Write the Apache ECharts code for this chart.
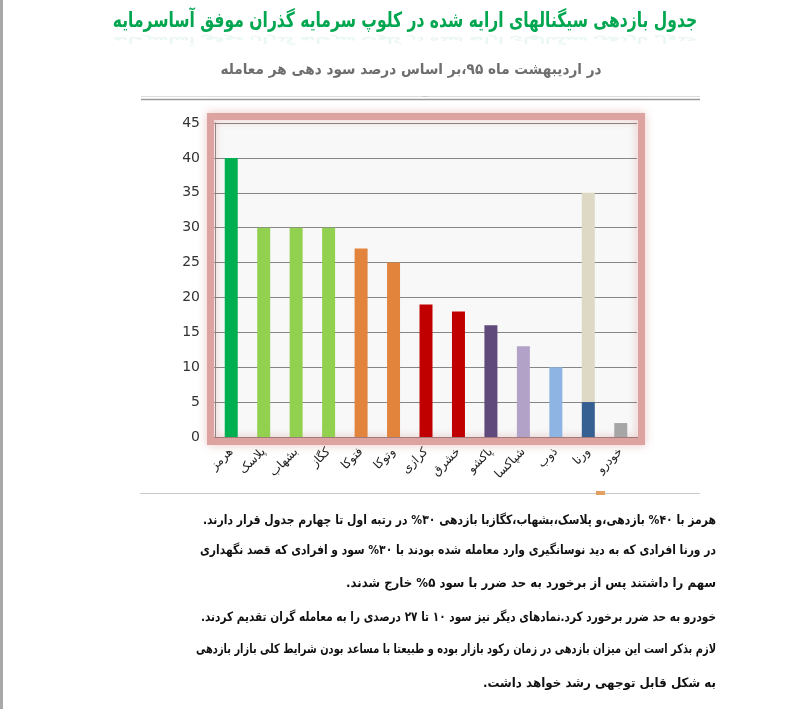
<!DOCTYPE html>
<html>
<head>
<meta charset="utf-8">
<script src="https://cdn.jsdelivr.net/npm/echarts@6/dist/echarts.min.js"></script>
<style>
html,body{margin:0;padding:0;background:#fff;}
#chart{width:797px;height:709px;}
</style>
</head>
<body>
<div id="chart" dir="rtl"></div>
<script>
const categories = ['هرمز','پلاسک','بشهاب','کگاز','فتوکا','وتوکا','کرازی','خشرق','پاکشو','شپاکسا','ذوب','ورنا','خودرو'];
const mainValues = [40, 30, 30, 30, 27, 25, 19, 18, 16, 13, 10, 5, 2];
const extraValues = ['-', '-', '-', '-', '-', '-', '-', '-', '-', '-', '-', 30, '-'];
const barColors = ['#00B050','#92D050','#92D050','#92D050','#E2843C','#E2843C','#C00000','#C00000','#604A7B','#B3A2C7','#8DB4E2','#376092','#A6A6A6'];
const extraColor = '#DDD9C4';
const yTicks = [0, 5, 10, 15, 20, 25, 30, 35, 40, 45];

const titleText = 'جدول بازدهی سیگنالهای ارایه شده در کلوپ سرمایه گذران موفق آساسرمایه';
const subtitleText = 'در اردیبهشت ماه ۹۵،بر اساس درصد سود دهی هر معامله';
const paragraphLines = [
  'هرمز با ۴۰% بازدهی،و پلاسک،بشهاب،کگازبا بازدهی ۳۰% در رتبه اول تا چهارم جدول قرار دارند.',
  'در ورنا افرادی که به دید نوسانگیری وارد معامله شده بودند با ۳۰% سود و افرادی که قصد نگهداری',
  'سهم را داشتند پس از برخورد به حد ضرر با سود ۵% خارج شدند.',
  'خودرو به حد ضرر برخورد کرد.نمادهای دیگر نیز سود ۱۰ تا ۲۷ درصدی را به معامله گران تقدیم کردند.',
  'لازم بذکر است این میزان بازدهی در زمان رکود بازار بوده و طبیعتا با مساعد بودن شرایط کلی بازار بازدهی',
  'به شکل قابل توجهی رشد خواهد داشت.'
];
const paragraphY = [521, 551, 584, 618, 650, 684];
const paragraphWidths = [513, 516, 370, 515, 520, 233];

const chart = echarts.init(document.getElementById('chart'), null, {renderer: 'canvas'});

const paraFont = 'bold 13px "DejaVu Sans"';
const mctx = document.createElement('canvas').getContext('2d');
mctx.font = paraFont;

const graphics = [
  {type:'rect', shape:{x:0,y:0,width:3,height:709}, style:{fill:'#a8a8a8'}, z:1},
  {type:'line', shape:{x1:141,y1:96.5,x2:700,y2:96.5}, style:{stroke:'#dcdcdc',lineWidth:1}, z:1},
  {type:'line', shape:{x1:141,y1:99.5,x2:700,y2:99.5}, style:{stroke:'#9a9a9a',lineWidth:1.5}, z:1},
  {type:'text', x:425, y:97, style:{text:'••••', fill:'#b8b8b8', font:'4px sans-serif', align:'center', verticalAlign:'middle'}, z:2},
  {type:'line', shape:{x1:140,y1:493.5,x2:700,y2:493.5}, style:{stroke:'#c8c8c8',lineWidth:1}, z:1},
  {type:'rect', shape:{x:596,y:491,width:9,height:4}, style:{fill:'#E2A060'}, z:2},
  {type:'rect', shape:{x:210.5,y:116.5,width:431,height:325}, style:{fill:null, stroke:'#DCA3A1', lineWidth:7, shadowBlur:10, shadowColor:'rgba(200,100,100,0.4)'}, z:1},
  {type:'text', x:405, y:22, scaleX:0.74, style:{text:titleText, fill:'#00A650', font:'bold 21px "DejaVu Sans"', align:'center', verticalAlign:'middle'}, z:3},
  {type:'text', x:405, y:39, scaleX:0.74, scaleY:-0.45, style:{text:titleText, fill:'rgba(0,166,80,0.08)', font:'bold 21px "DejaVu Sans"', align:'center', verticalAlign:'middle'}, z:3},
  {type:'text', x:411, y:70, scaleX:0.91, style:{text:subtitleText, fill:'#6e6e6e', font:'bold 15px "DejaVu Sans"', align:'center', verticalAlign:'middle'}, z:3}
];
paragraphLines.forEach((t, i) => {
  const w = mctx.measureText(t).width || 1;
  const s = Math.min(1, paragraphWidths[i] / w);
  graphics.push({type:'text', x:716, y:paragraphY[i], scaleX:s, style:{text:t, fill:'#111', font:paraFont, align:'right', verticalAlign:'middle'}, z:3});
});

chart.setOption({
  animation: false,
  backgroundColor: '#ffffff',
  grid: {left:215, right:160, top:123, bottom:272, show:true, backgroundColor:'#f8f8f8', borderWidth:0},
  xAxis: {
    type:'category',
    data: categories,
    axisLine:{show:true, lineStyle:{color:'#9a7f7f', width:1}},
    axisTick:{show:true, alignWithLabel:false, length:4, lineStyle:{color:'#8a8a8a'}},
    axisLabel:{rotate:45, margin:13, color:'#222', fontSize:12, fontFamily:'DejaVu Sans', interval:0}
  },
  yAxis: {
    type:'value', min:0, max:45, interval:5,
    axisLine:{show:true, lineStyle:{color:'#8a8a8a'}},
    axisTick:{show:true, length:6, lineStyle:{color:'#8a8a8a'}},
    axisLabel:{margin:15, color:'#333', fontSize:14, fontFamily:'DejaVu Sans',
      formatter: v => yTicks.indexOf(v) >= 0 ? String(v) : ''},
    splitLine:{show:true, lineStyle:{color:'#858585', width:1}}
  },
  series: [
    {type:'bar', stack:'s', barWidth:13,
     data: mainValues.map((v, i) => ({value:v, itemStyle:{color:barColors[i]}})), z:3},
    {type:'bar', stack:'s', barWidth:13,
     data: extraValues, itemStyle:{color:extraColor}, z:3}
  ],
  graphic: graphics
});
</script>
</body>
</html>
